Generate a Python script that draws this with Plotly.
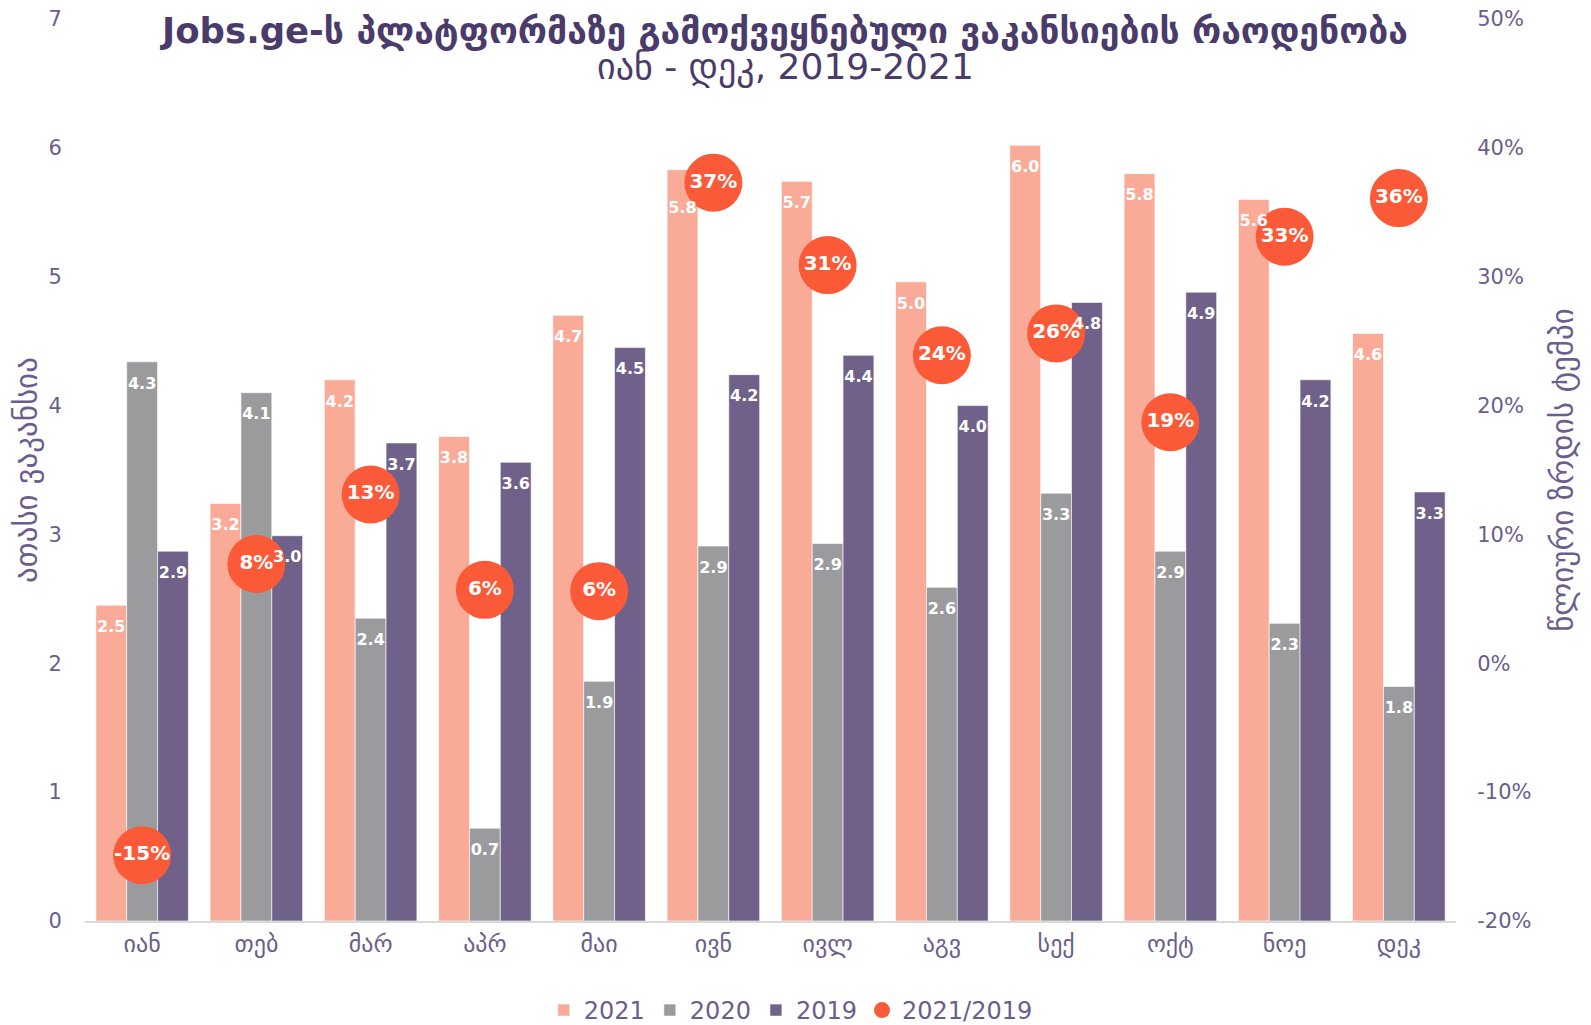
import plotly.graph_objects as go

months = ["იან", "თებ", "მარ", "აპრ", "მაი", "ივნ", "ივლ", "აგვ", "სექ", "ოქტ", "ნოე", "დეკ"]
v2021 = [2.45, 3.24, 4.20, 3.76, 4.70, 5.83, 5.74, 4.96, 6.02, 5.80, 5.60, 4.56]
v2020 = [4.34, 4.10, 2.35, 0.72, 1.86, 2.91, 2.93, 2.59, 3.32, 2.87, 2.31, 1.82]
v2019 = [2.87, 2.99, 3.71, 3.56, 4.45, 4.24, 4.39, 4.00, 4.80, 4.88, 4.20, 3.33]
growth = [-0.149, 0.077, 0.131, 0.057, 0.056, 0.373, 0.309, 0.239, 0.256, 0.187, 0.331, 0.361]
pct_ticks = [-0.2, -0.1, 0.0, 0.1, 0.2, 0.3, 0.4, 0.5]

FONT = "DejaVu Sans"
DARK = "#4a3b6b"
MID = "#6b5e8c"

W, H = 1591, 1025
ML, MR, MT, MB = 77, 143, 11, 112
BARGAP = 0.19
series = [("2021", v2021, "#f9ab98"), ("2020", v2020, "#9b9b9e"), ("2019", v2019, "#6f6189")]
# label pushed lower where it would collide with a growth bubble (style only)
LABEL_PAD = 22
LABEL_PAD_SPECIAL = {("2021", "ივნ"): 49}

fig = go.Figure()
for name, vals, col in series:
    fig.add_trace(go.Bar(
        x=months, y=vals, name=name, offsetgroup=name, alignmentgroup="g",
        marker=dict(color=col, line=dict(color="rgba(255,255,255,0.6)", width=1)),
    ))

fig.add_trace(go.Scatter(
    x=months, y=growth, name="2021/2019", yaxis="y2",
    mode="markers+text",
    marker=dict(color="#fa5a38", size=58),
    text=[f"{round(g*100):d}%" for g in growth],
    textposition="middle center",
    textfont=dict(family=FONT, size=20, color="white", weight="bold"),
    cliponaxis=False,
))

# value labels just inside the top of each bar, drawn on a top layer (y3)
for name, vals, col in series:
    fig.add_trace(go.Scatter(
        x=months, y=vals, yaxis="y3", offsetgroup=name, alignmentgroup="g",
        mode="markers+text", showlegend=False, hoverinfo="skip",
        marker=dict(size=[LABEL_PAD_SPECIAL.get((name, m), LABEL_PAD) for m in months], opacity=0),
        text=[f"{v:.1f}" for v in vals], textposition="bottom center",
        textfont=dict(family=FONT, size=16, color="white", weight="bold"),
        cliponaxis=False,
    ))

plot_h = H - MT - MB
annotations = [
    dict(text="<b>Jobs.ge-ს პლატფორმაზე გამოქვეყნებული ვაკანსიების რაოდენობა</b>",
         xref="paper", yref="paper", x=0.51, y=(H - MB - 22.5) / plot_h,
         xanchor="center", yanchor="middle", showarrow=False,
         font=dict(family=FONT, size=35.5, color=DARK)),
    dict(text="იან - დეკ, 2019-2021",
         xref="paper", yref="paper", x=0.511, y=(H - MB - 59) / plot_h,
         xanchor="center", yanchor="middle", showarrow=False,
         font=dict(family=FONT, size=36, color=DARK)),
]

fig.update_layout(
    width=W, height=H,
    paper_bgcolor="white", plot_bgcolor="white",
    font=dict(family=FONT, color=MID),
    margin=dict(l=ML, r=MR, t=MT, b=MB, autoexpand=False),
    barmode="group", bargap=BARGAP, bargroupgap=0,
    scattermode="group", scattergap=BARGAP,
    annotations=annotations,
    xaxis=dict(
        range=[-0.5, 11.5],
        showline=True, linecolor="#d9d9d9", linewidth=2,
        ticks="", tickfont=dict(size=24, color=MID), showgrid=False,
    ),
    yaxis=dict(
        range=[0, 7], dtick=1, showgrid=False, zeroline=False,
        ticks="outside", ticklen=18, tickcolor="rgba(0,0,0,0)",
        ticklabeloverflow="allow",
        tickfont=dict(size=21, color=MID),
        title=dict(text="ათასი ვაკანსია", font=dict(size=31, color=MID), standoff=5),
    ),
    yaxis2=dict(
        range=[-0.2, 0.5], tickvals=pct_ticks,
        ticktext=[f"{round(t*100):d}%" for t in pct_ticks],
        overlaying="y", side="right",
        showgrid=False, zeroline=False,
        ticks="outside", ticklen=16, tickcolor="rgba(0,0,0,0)",
        ticklabeloverflow="allow",
        tickfont=dict(size=21, color=MID),
        title=dict(text="წლიური ზრდის ტემპი", font=dict(size=31, color=MID), standoff=20),
    ),
    yaxis3=dict(
        range=[0, 7], overlaying="y", visible=False, showgrid=False, zeroline=False,
    ),
    legend=dict(
        orientation="h", xref="container", x=0.492, xanchor="center",
        yref="container", y=0.0, yanchor="bottom",
        font=dict(size=24, color=MID), itemwidth=30, tracegroupgap=0,
    ),
    showlegend=True,
)

fig.write_html("out.html")
